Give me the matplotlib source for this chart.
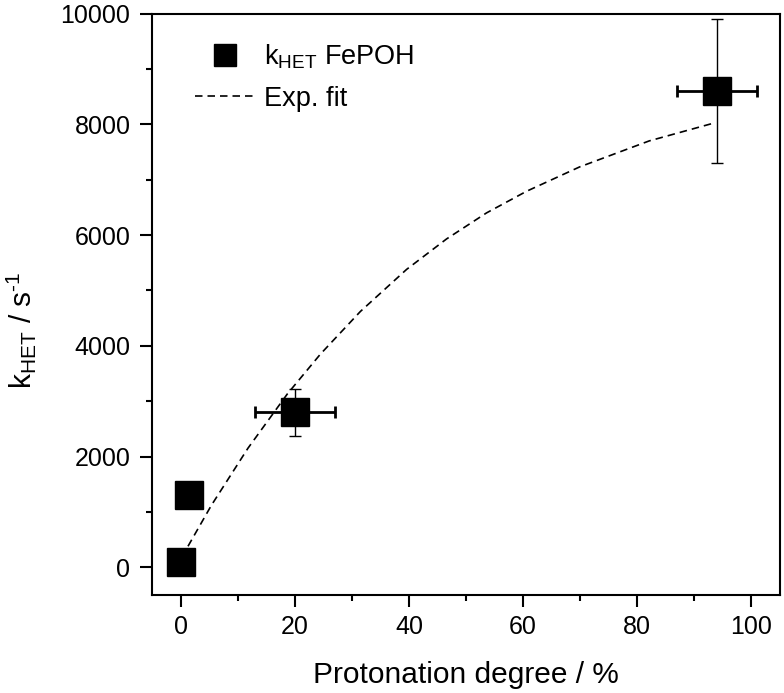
import matplotlib
matplotlib.use("Agg")
import matplotlib.pyplot as plt
from matplotlib.lines import Line2D
from matplotlib.ticker import MultipleLocator

plt.rcParams['font.family'] = ['Liberation Sans', 'DejaVu Sans']
plt.rcParams['mathtext.fontset'] = 'custom'
plt.rcParams['mathtext.rm'] = 'Liberation Sans'
plt.rcParams['mathtext.it'] = 'Liberation Sans'
plt.rcParams['mathtext.default'] = 'regular'

# data points
x_pts = [0, 1.5, 20, 94]
y_pts = [100, 1300, 2800, 8600]
x_err = [0, 0, 7, 7]
y_err = [0, 0, 420, 1300]

# exponential fit curve
fit_x = [1.3, 5.4, 11.8, 18.7, 24.5, 31.5, 39.6, 46.6, 53.6, 60.6, 69.9, 82.1, 93.7]
fit_y = [380, 1120, 2150, 3130, 3850, 4620, 5380, 5930, 6400, 6790, 7230, 7700, 8030]

fig = plt.figure(figsize=(7.84, 6.93), dpi=100)
ax = fig.add_axes([0.1939, 0.1414, 0.8010, 0.8391])

ax.plot(fit_x, fit_y, color='black', lw=1.2, linestyle=(0, (4.5, 3)), zorder=2)

# y error bars (thin)
ax.errorbar(x_pts, y_pts, yerr=y_err, fmt='none', ecolor='black', elinewidth=1.0,
            capsize=4.5, capthick=1.0, zorder=3)
# x error bars (thick)
ax.errorbar(x_pts, y_pts, xerr=x_err, fmt='none', ecolor='black', elinewidth=2.0,
            capsize=4.5, capthick=2.0, zorder=3)
ax.plot(x_pts, y_pts, linestyle='none', marker='s', markersize=20, color='black', zorder=4)

ax.set_xlim(-5, 105)
ax.set_ylim(-500, 10000)
ax.xaxis.set_major_locator(MultipleLocator(20))
ax.xaxis.set_minor_locator(MultipleLocator(10))
ax.yaxis.set_major_locator(MultipleLocator(2000))
ax.yaxis.set_minor_locator(MultipleLocator(1000))

for s in ax.spines.values():
    s.set_linewidth(1.5)
ax.tick_params(which='major', direction='out', length=8.5, width=1.5, labelsize=18)
ax.tick_params(axis='x', which='major', pad=6)
ax.tick_params(axis='y', which='major', pad=7)
ax.tick_params(which='minor', direction='out', length=4, width=1.5)
ax.tick_params(top=False, right=False, which='both')

ax.set_xlabel('Protonation degree / %', fontsize=21.5, labelpad=16)
ax.set_ylabel(r'k$_{HET}$ / s$^{\text{-1}}$', fontsize=21.5, labelpad=16)
ax.yaxis.label.set_y(0.455)

handles = [
    Line2D([], [], linestyle='none', marker='s', markersize=16, color='black'),
    Line2D([], [], color='black', lw=1.2, linestyle=(0, (4.5, 3))),
]
labels = ['k$_{HET}$ FePOH', 'Exp. fit']
ax.legend(handles, labels, loc='upper left', frameon=False, fontsize=19.5,
          handlelength=2.2, handletextpad=0.33, labelspacing=0.55,
          bbox_to_anchor=(0.03, 0.992))

fig.savefig('out.png', dpi=100)
